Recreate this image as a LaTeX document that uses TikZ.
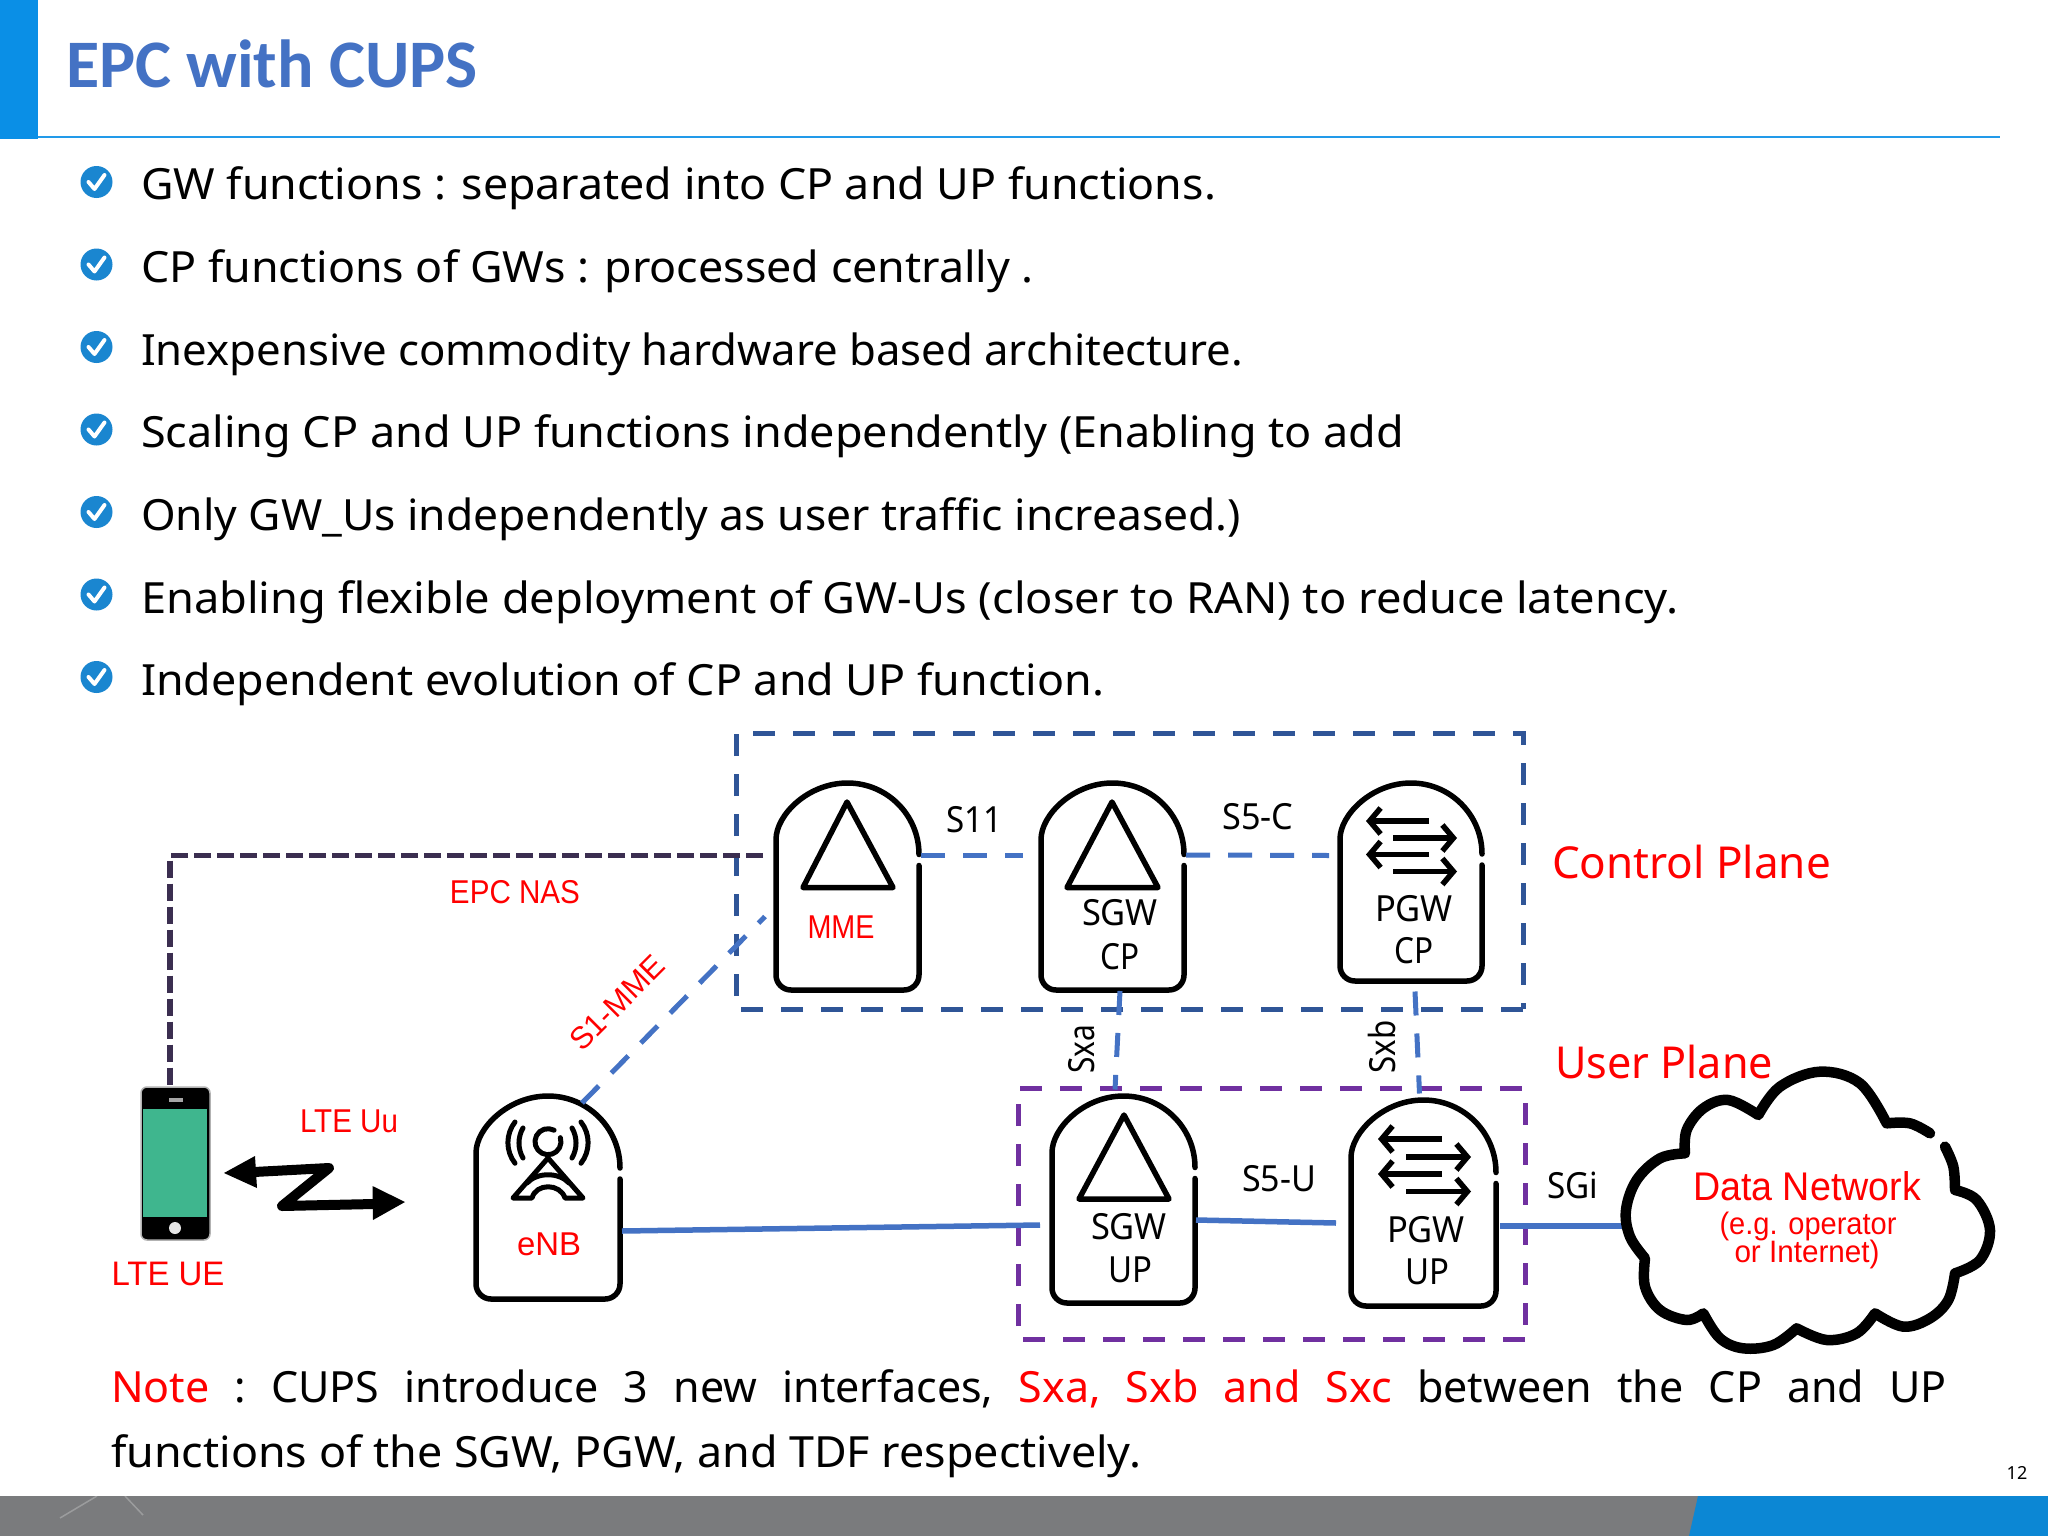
\documentclass[tikz,border=0pt]{standalone}
\usepackage{fontspec}
\usepackage{graphicx}
\setmainfont{Noto Sans}
\newfontfamily\arialf{Liberation Sans}
\newfontfamily\titlef{Carlito}
\usetikzlibrary{arrows.meta,calc}
\definecolor{topblue}{HTML}{0A8FE6}
\definecolor{footblue}{HTML}{0C87D4}
\definecolor{footgray}{HTML}{7A7B7D}
\definecolor{linkblue}{HTML}{4472C4}
\definecolor{cpbox}{HTML}{2F5597}
\definecolor{upbox}{HTML}{7030A0}
\definecolor{nas}{HTML}{3B2E50}
\definecolor{screen}{HTML}{3FB68E}
\definecolor{bul}{HTML}{1A86D0}
\newcommand\fs[1]{\fontsize{#1}{#1}\selectfont}
\newcommand\fit[2]{\resizebox{#1pt}{\height}{#2}}
\tikzset{
  x=1pt,y=-1pt,
  txt/.style={inner sep=0pt,outer sep=0pt},
  body/.style={txt,anchor=base west,font=\fs{43}},
  lbl/.style={txt,font=\fs{36}},
  red lbl/.style={txt,font=\arialf\fs{33},text=red},
  plane/.style={txt,font=\fs{44},text=red},
  domebox/.style={inner sep=0pt,outer sep=0pt,draw=none},
  domeline/.style={draw=black,line width=5.5pt,line cap=round,line join=round},
  tri/.style={draw=black,line width=5.5pt,line join=round},
  barb/.style={draw=black,line width=5.5pt,-{Straight Barb[length=11pt,width=26pt,line width=5.5pt]}},
  cpframe/.style={draw=cpbox,line width=5pt,dash pattern=on 22pt off 18pt},
  upframe/.style={draw=upbox,line width=5pt,dash pattern=on 22pt off 18pt},
  dashlink/.style={draw=linkblue,line width=5pt,dash pattern=on 24pt off 18pt},
  naslink/.style={draw=nas,line width=5.5pt,dash pattern=on 17pt off 6pt},
  solidlink/.style={draw=linkblue,line width=5.5pt},
  icon/.style={draw=black,line width=5pt,line cap=round,line join=round},
  cloudline/.style={draw=black,line width=10.5pt,line join=round,line cap=round},
}
\newcommand\dome[5]{%
  \pgfmathsetmacro\dCx{(#2+#3)/2}%
  \pgfmathsetmacro\dCy{(#4+#5)/2}%
  \pgfmathsetmacro\dR{(#3-#2)/2}%
  \pgfmathsetmacro\dK{0.5523*\dR}%
  \pgfmathsetmacro\dW{#3-#2}%
  \pgfmathsetmacro\dH{#5-#4}%
  \node[domebox,minimum width=\dW pt,minimum height=\dH pt] (#1) at (\dCx,\dCy) {};
  \draw[domeline] (#3,{#4+\dR+11}) [rounded corners=15pt] -- (#3,#5) -- (#2,#5) -- (#2,{#4+\dR})
    [sharp corners] .. controls (#2,{#4+\dR-\dK}) and ({\dCx-\dK},#4) .. (\dCx,#4)
    .. controls ({\dCx+\dK},#4) and (#3,{#4+\dR-\dK}) .. (#3,{#4+\dR});
}
\begin{document}
\begin{tikzpicture}
\useasboundingbox (0,0) rectangle (2048,1536);
\fill[white] (0,0) rectangle (2048,1536);
% header
\fill[topblue] (0,0) rectangle (38,139);
\draw[topblue!90!white,line width=2pt] (38,137) -- (2000,137);
\node[txt,anchor=base west,font=\titlef\bfseries\fs{68},text=linkblue] (title) at (66,88) {\fit{412}{EPC with CUPS}};
% footer
\fill[footgray] (0,1496) rectangle (2048,1536);
\fill[footblue] (1698,1496) -- (2048,1496) -- (2048,1536) -- (1689,1536) -- cycle;
\draw[white,opacity=.25,line width=1.5pt] (60,1518) -- (97,1496);
\draw[white,opacity=.25,line width=1.5pt] (125,1496) -- (143,1515);
\node[txt,font=\fs{18}] (pageno) at (2017,1473) {12};
% bullets
\foreach \i/\yy in {1/182,2/264.5,3/347,4/429.5,5/512,6/594.5,7/677}{
  \node[circle,fill=bul,minimum size=32pt,inner sep=0pt] (b\i) at (96.5,\yy) {};
  \draw[white,line width=4pt,line join=round,line cap=round] ($(b\i.center)+(-8,0)$) -- ($(b\i.center)+(-2,7)$) -- ($(b\i.center)+(8,-7)$);
}
\node[body] (t1) at (141,199.5) {\fit{1075}{GW functions : separated into CP and UP functions.}};
\node[body] (t2) at (141,282) {\fit{893}{CP functions of GWs : processed centrally .}};
\node[body] (t3) at (141,365) {\fit{1102}{Inexpensive commodity hardware based architecture.}};
\node[body] (t4) at (141,447.5) {\fit{1263}{Scaling CP and UP functions independently (Enabling to add}};
\node[body] (t5) at (141,530) {\fit{1100}{Only GW\_Us independently as user traffic increased.)}};
\node[body] (t6) at (141,613) {\fit{1537}{Enabling flexible deployment of GW-Us (closer to RAN) to reduce latency.}};
\node[body] (t7) at (141,695) {\fit{963}{Independent evolution of CP and UP function.}};
% frames
\draw[cpframe] (1523,1009) -- (736,1009) -- (736,733) -- (1523,733) -- cycle;
\draw[upframe] (1525,1339) -- (1018,1339) -- (1018,1088) -- (1525,1088) -- cycle;
% domes
\dome{mme}{776}{919}{783}{990}
\dome{sgwcp}{1041}{1184}{783}{990}
\dome{pgwcp}{1340}{1482}{783}{981}
\dome{sgwup}{1052}{1195}{1096}{1303}
\dome{pgwup}{1351}{1496}{1100}{1306}
\dome{enb}{476}{620}{1096}{1299}
% triangles
\draw[tri] (847,802) -- (803,887.5) -- (893,887.5) -- cycle;
\draw[tri] (1112,802) -- (1067,887.5) -- (1158,887.5) -- cycle;
\draw[tri] (1124,1115) -- (1079,1199) -- (1169,1199) -- cycle;
% PGW arrows
\draw[barb] (1429,821) -- (1366,821);
\draw[barb] (1393,838) -- (1457,838);
\draw[barb] (1429,854.5) -- (1366,854.5);
\draw[barb] (1393,871.5) -- (1457,871.5);
\draw[barb] (1442,1139) -- (1378,1139);
\draw[barb] (1406,1157) -- (1471,1157);
\draw[barb] (1442,1174) -- (1378,1174);
\draw[barb] (1406,1191.5) -- (1471,1191.5);
% phone
\node[draw=gray!60,line width=1.5pt,fill=black,rounded corners=6pt,minimum width=69pt,minimum height=153pt,inner sep=0pt] (phone) at (175.5,1163.5) {};
\fill[screen] (143,1109) rectangle (207,1217);
\fill[gray!70] (169,1097.5) rectangle (183,1101.5);
\fill[white!90!black] (175,1228) circle[radius=6pt];
% zigzag
\draw[line width=10pt,line join=round,line cap=round] (254,1172) -- (329,1168) -- (282,1206) -- (374,1204);
\fill (224,1173) -- (255,1156) -- (257,1188) -- cycle;
\fill (405,1202) -- (372.5,1186) -- (373,1220) -- cycle;
% eNB icon
\draw[icon] (554.1,1130.2) arc[start angle=62,end angle=378,radius=13pt];
\draw[icon] (523,1128) arc[start angle=150,end angle=210,radius=30pt];
\draw[icon] (572,1128) arc[start angle=30,end angle=-30,radius=30pt];
\draw[icon] (515,1122) arc[start angle=142,end angle=218,radius=33.5pt];
\draw[icon] (581,1122) arc[start angle=38,end angle=-38,radius=33.5pt];
\draw[icon] (548,1158) -- (513,1198) -- (532,1198) .. controls (536,1183) and (560,1183) .. (565,1198) -- (583,1198) -- cycle;
\draw[icon] (527,1183) .. controls (537,1172) and (559,1172) .. (569,1183);
% connectors
\coordinate (cloudin) at (1622,1226);
\draw[naslink] ([shift={(-13pt,31pt)}]mme.west) -| ([xshift=-5.5pt]phone.north);
\draw[dashlink] ([shift={(2pt,31.5pt)}]mme.east) -- ([shift={(-18pt,31.5pt)}]sgwcp.west);
\draw[dashlink] ([shift={(2pt,31.5pt)}]sgwcp.east) -- ([shift={(-11pt,26.5pt)}]pgwcp.west);
\draw[dashlink] ([shift={(34pt,-7pt)}]enb.north) -- ([shift={(-11pt,-30pt)}]mme.west);
\draw[dashlink] ([shift={(7.5pt,-1pt)}]sgwcp.south) -- ([shift={(-8.5pt,6.5pt)}]sgwup.north);
\draw[dashlink] ([shift={(4pt,-10.5pt)}]pgwcp.south) -- ([shift={(-4pt,6.5pt)}]pgwup.north);
\draw[solidlink] ([shift={(2pt,-33.5pt)}]enb.east) -- ([shift={(-12pt,-25.5pt)}]sgwup.west);
\draw[solidlink] ([shift={(1pt,-20.5pt)}]sgwup.east) -- ([shift={(-15pt,-20pt)}]pgwup.west);
\draw[solidlink] ([shift={(4pt,-23pt)}]pgwup.east) -- (cloudin);
% cloud
\begin{scope}[x=0.33333pt,y=-0.33333pt,shift={(1540pt,-1040pt)}]
\draw[cloudline] plot[smooth,tension=.6] coordinates {(1215,320) (1240,380) (1245,450)}
 -- plot[smooth,tension=.6] coordinates {(1245,450) (1310,480) (1350,570) (1320,660) (1245,700)}
 -- plot[smooth,tension=.6] coordinates {(1245,700) (1225,780) (1170,835) (1090,860) (1005,820)}
 -- plot[smooth,tension=.6] coordinates {(1005,820) (950,880) (860,900) (770,865)}
 -- plot[smooth,tension=.6] coordinates {(770,865) (700,915) (610,925) (540,895) (490,820)}
 -- plot[smooth,tension=.6] coordinates {(490,820) (440,840) (360,810) (315,740) (315,655)}
 -- plot[smooth,tension=.6] coordinates {(315,655) (270,590) (258,510) (290,420) (360,355) (435,340)}
 -- plot[smooth,tension=.6] coordinates {(435,340) (440,270) (490,205) (565,180) (655,225)}
 -- plot[smooth,tension=.6] coordinates {(655,225) (720,140) (840,95) (960,130) (1040,250)}
 -- plot[smooth,tension=.6] coordinates {(1040,250) (1110,250) (1170,280)};
\end{scope}
% labels
\node[red lbl] (lmme) at (841,927) {\fit{67}{MME}};
\node[lbl] (l1) at (1120,913) {\fit{76}{SGW}};
\node[lbl] (l2) at (1120,957) {\fit{39}{CP}};
\node[lbl] (l3) at (1414,909) {\fit{78}{PGW}};
\node[lbl] (l4) at (1414,951) {\fit{39}{CP}};
\node[lbl] (l5) at (1129,1227) {\fit{76}{SGW}};
\node[lbl] (l6) at (1130,1270) {\fit{44}{UP}};
\node[lbl] (l7) at (1426,1230) {\fit{78}{PGW}};
\node[lbl] (l8) at (1427,1272) {\fit{44}{UP}};
\node[lbl] (ls11) at (974,820) {\fit{56}{S11}};
\node[lbl] (ls5c) at (1258,817) {\fit{71}{S5-C}};
\node[lbl] (ls5u) at (1279,1179) {\fit{74}{S5-U}};
\node[lbl,rotate=90] (lsxa) at (1082,1049) {\fit{49}{Sxa}};
\node[lbl,rotate=90] (lsxb) at (1382,1047) {\fit{53}{Sxb}};
\node[lbl] (lsgi) at (1573,1185) {\fit{51}{SGi}};
\node[red lbl] (lenb) at (549,1244) {\fit{64}{eNB}};
\node[red lbl] (luu) at (349,1121) {\fit{98}{LTE Uu}};
\node[red lbl,font=\arialf\fs{34}] (lue) at (168,1274) {\fit{113}{LTE UE}};
\node[red lbl] (lnas) at (515,892) {\fit{130}{EPC NAS}};
\node[red lbl,font=\arialf\fs{31},rotate=45] (ls1) at (617,1003) {\fit{120}{S1-MME}};
\node[plane] (lcp) at (1691.5,862) {\fit{279}{Control Plane}};
\node[plane] (lup) at (1664,1062) {\fit{218}{User Plane}};
\node[red lbl,font=\arialf\fs{40}] (ldn) at (1807,1186) {\fit{228}{Data Network}};
\node[red lbl,font=\arialf\fs{31}] (leg) at (1808,1226) {\fit{177}{(e.g. operator}};
\node[red lbl,font=\arialf\fs{31}] (lor) at (1807,1254) {\fit{145}{or Internet)}};
% note
\node[body] (n1) at (111,1402) {\frenchspacing\makebox[1836pt][s]{\textcolor{red}{Note} : CUPS introduce 3 new interfaces, \textcolor{red}{Sxa, Sxb and Sxc} between the CP and UP}};
\node[body] (n2) at (111,1467) {\fit{1030}{functions of the SGW, PGW, and TDF respectively.}};
\end{tikzpicture}
\end{document}
